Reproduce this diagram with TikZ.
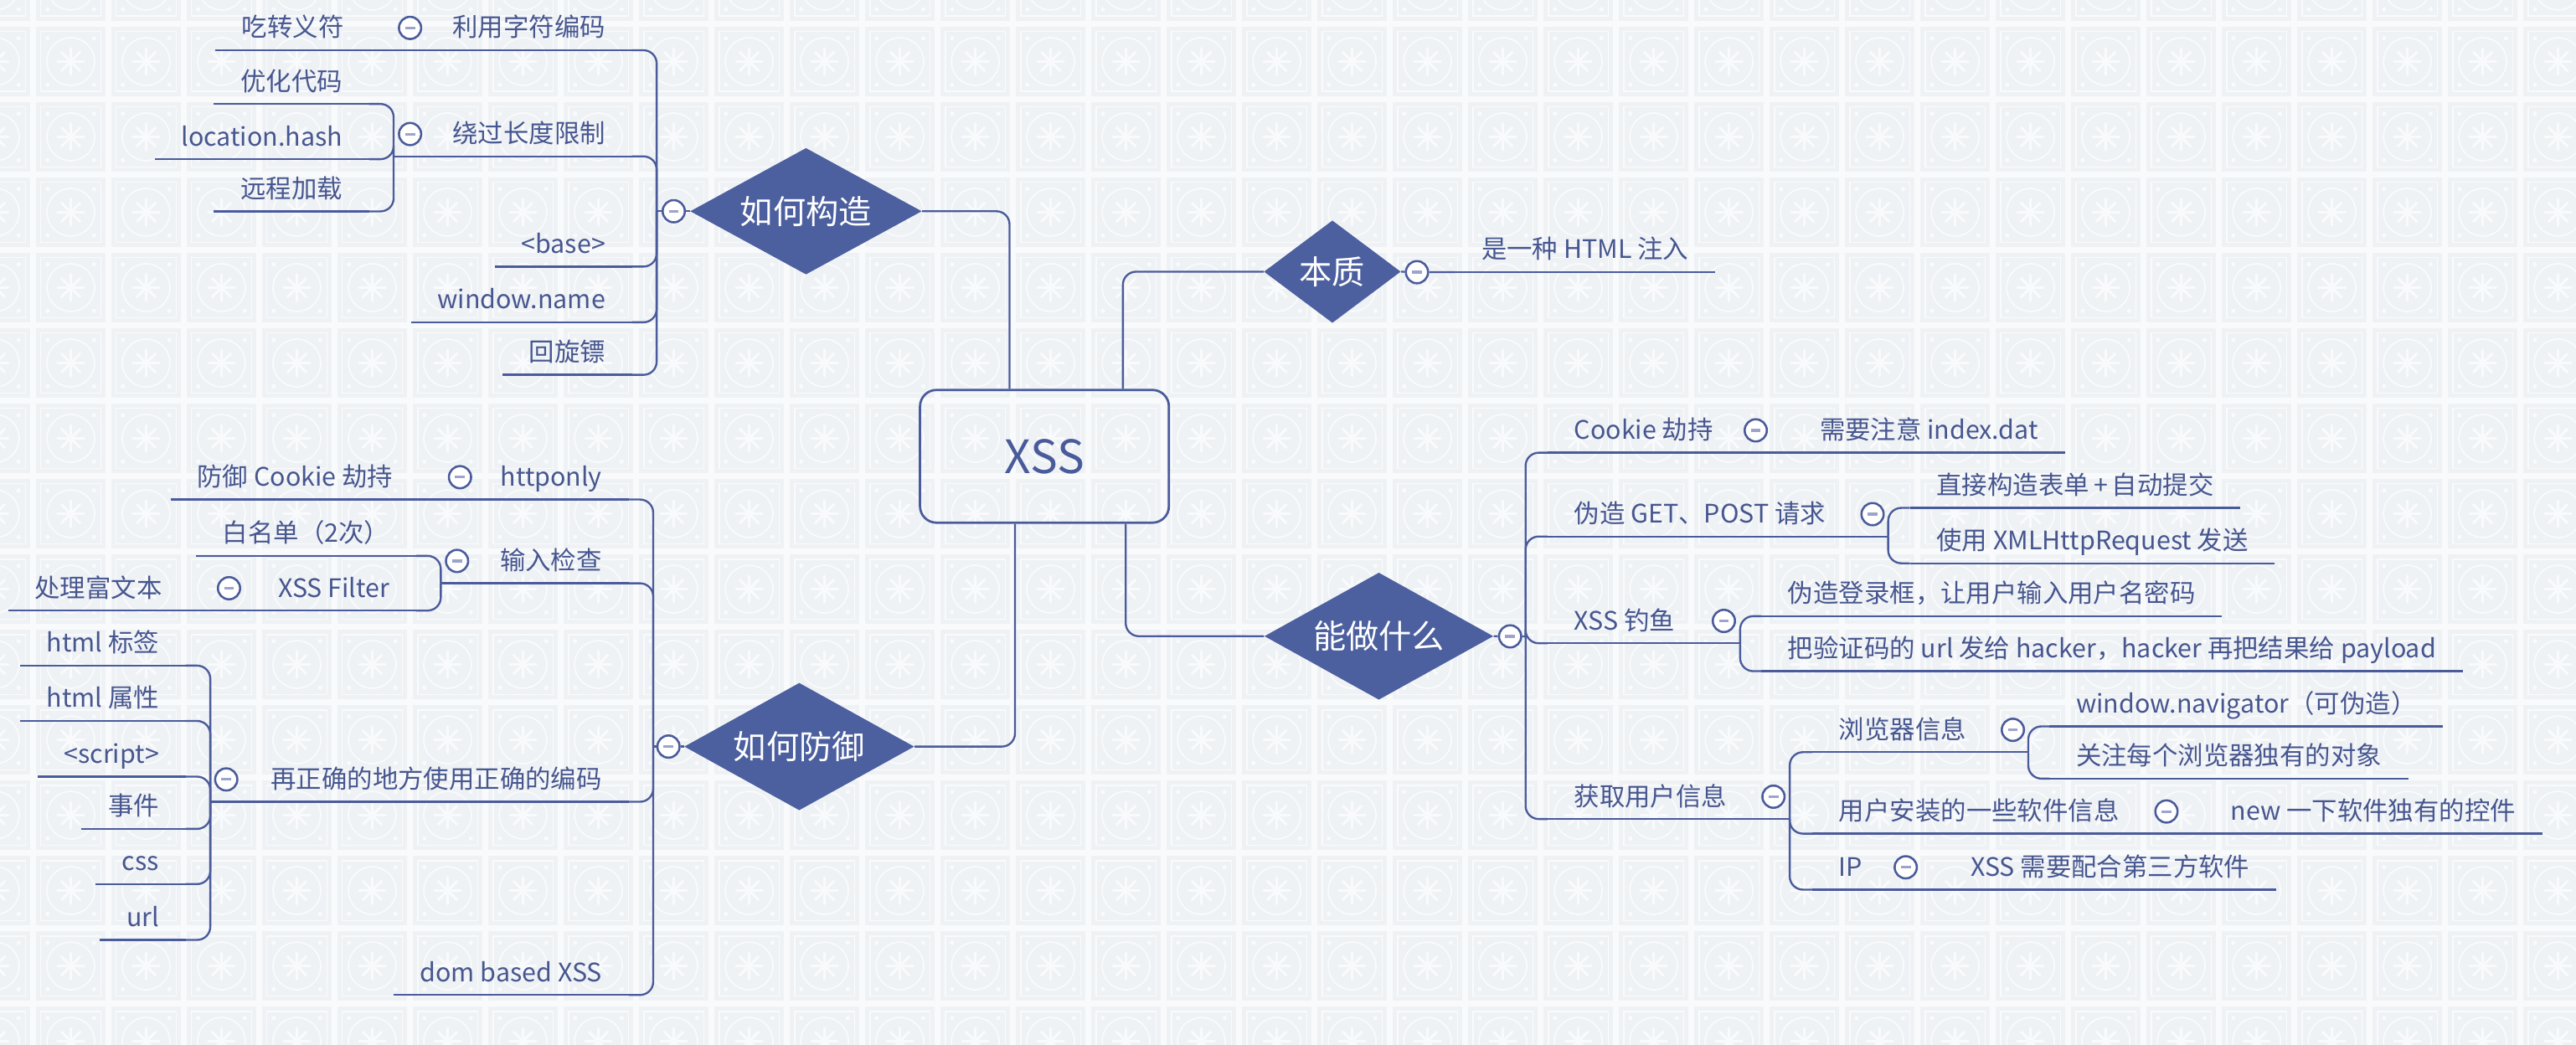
\documentclass[tikz,border=0pt]{standalone}
\usepackage{fontspec}
\newfontfamily\cjk{Noto Sans CJK SC}
\usetikzlibrary{shapes.geometric,calc}
\definecolor{lc}{HTML}{4A5B9B}
\definecolor{tc}{HTML}{46568F}
\definecolor{dfill}{HTML}{4C5F9F}
\definecolor{bgc}{HTML}{F9FAFB}
\definecolor{tilec}{HTML}{EFF2F5}
\definecolor{tdeco}{HTML}{F9FAFC}
\definecolor{dashc}{HTML}{9CA4CC}
\pgfdeclarelayer{tiles}
\pgfdeclarelayer{lines}
\pgfsetlayers{tiles,lines,main}
\tikzset{
  conn/.style={draw=lc, line width=1.2pt, rounded corners=8pt},
  topic/.style={font=\cjk\fontsize{15.5pt}{18pt}\selectfont, text=tc, inner xsep=16pt, inner ysep=0pt, text height=13pt, text depth=8pt},
  lt/.style={topic, anchor=south east},
  rt/.style={topic, anchor=south west},
  mainbranch/.style={diamond, fill=dfill, text=white, font=\cjk\fontsize{20pt}{24pt}\selectfont, inner sep=0pt},
  btn/.style={circle, draw=lc, line width=1.3pt, fill=white, minimum size=13.5pt, inner sep=0pt,
    path picture={\draw[dashc, line width=1.6pt] ([xshift=-3pt]path picture bounding box.center) -- ([xshift=3pt]path picture bounding box.center);}},
}
\begin{document}
\begin{tikzpicture}[x=1pt, y=-1pt]
\useasboundingbox (0,0) rectangle (1568,636);
% background tiles
\begin{pgfonlayer}{tiles}
\fill[bgc] (0,0) rectangle (1568,636);
\begin{scope}
\clip (0,0) rectangle (1568,636);
\foreach \i in {-1,...,33}{
 \foreach \j in {-1,...,13}{
  \pgfmathsetmacro\tx{21.92+45.88*\i}
  \pgfmathsetmacro\ty{16.31+45.88*\j}
  \begin{scope}[shift={(\tx,\ty)}]
   \fill[tilec] (0,0) rectangle (42.3,42.3);
   \draw[tdeco, line width=0.6pt] (3,3) rectangle (39.3,39.3);
   \draw[tdeco, line width=0.9pt] (21.15,21.15) circle[radius=14.5pt];
   \foreach \a in {0,45,...,315} \draw[tdeco, line width=1.6pt, line cap=round] (21.15,21.15) -- ++(\a:8);
   \fill[tdeco] (21.15,21.15) circle[radius=2.5pt];
   \fill[tdeco] (7,7) circle[radius=1.3pt];
   \fill[tdeco] (35.3,7) circle[radius=1.3pt];
   \fill[tdeco] (7,35.3) circle[radius=1.3pt];
   \fill[tdeco] (35.3,35.3) circle[radius=1.3pt];
  \end{scope}
 }}
\end{scope}
\end{pgfonlayer}

% central topic
\node[draw=lc, line width=1.4pt, rounded corners=10pt, minimum width=151.5pt, minimum height=80.8pt,
      font=\cjk\fontsize{28pt}{32pt}\selectfont, text=lc] (xss) at (635.75,277.8) {XSS};

% main branches
\node[mainbranch, shape aspect=1.83, minimum width=141pt, minimum height=77pt] (d1) at (490.6,128.6) {如何构造};
\node[mainbranch, shape aspect=1.33, minimum width=83.3pt, minimum height=62.4pt] (d0) at (811,165.4) {本质};
\node[mainbranch, shape aspect=1.8, minimum width=140pt, minimum height=77.6pt] (d2) at (486.5,454.5) {如何防御};
\node[mainbranch, shape aspect=1.8, minimum width=139.4pt, minimum height=77.4pt] (d3) at (839.3,387.3) {能做什么};

% collapse buttons
\node[btn] (c1) at (410.1,128.6) {};
\node[btn] (c0) at (862.5,165.7) {};
\node[btn] (c2) at (406.9,454.5) {};
\node[btn] (c3) at (919.2,387.4) {};

\coordinate (v1) at (399.7,128.6);
\coordinate (v2) at (397.6,454.5);
\coordinate (v3) at (928.6,387.4);

% ---- 如何构造
\node[lt] (a1) at (384.7,30.6) {利用字符编码};
\node[btn] (ca1) at (249.6,17) {};
\node[lt] (a11) at (225.5,30.6) {吃转义符};
\node[lt] (a2) at (384.7,95.2) {绕过长度限制};
\node[btn] (ca2) at (249.6,81.6) {};
\coordinate (v12) at (239.6,95.2);
\node[lt] (a21) at (224.6,63.3) {优化代码};
\node[lt] (a22) at (224.6,96.9) {location.hash};
\node[lt] (a23) at (224.6,128.7) {远程加载};
\node[lt] (a3) at (384.7,162.3) {<base>};
\node[lt] (a4) at (384.7,196.2) {window.name};
\node[lt] (a5) at (384.7,228.2) {回旋镖};

% ---- 如何防御
\node[lt] (b1) at (382.6,304.1) {httponly};
\node[btn] (cb1) at (280,290.5) {};
\node[lt] (b11) at (255.3,304.1) {防御 Cookie 劫持};
\node[lt] (b2) at (382.6,355.1) {输入检查};
\node[btn] (cb2) at (278.2,341.5) {};
\coordinate (v22) at (268.3,355.1);
\node[lt] (b21) at (253.3,338.4) {白名单（2次）};
\node[lt] (b22) at (253.3,371.7) {XSS Filter};
\node[btn] (cb22) at (139.4,358.1) {};
\node[lt] (b221) at (114.9,371.7) {处理富文本};
\node[lt] (b3) at (382.6,488.1) {再正确的地方使用正确的编码};
\node[btn] (cb3) at (137.7,474.5) {};
\coordinate (v23) at (128,488.1);
\node[lt] (b31) at (113,405.2) {html 标签};
\node[lt] (b32) at (113,438.9) {html 属性};
\node[lt] (b33) at (113,472.8) {<script>};
\node[lt] (b34) at (113,504.6) {事件};
\node[lt] (b35) at (113,538.2) {css};
\node[lt] (b36) at (113,572.2) {url};
\node[lt] (b4) at (382.6,605.7) {dom based XSS};

% ---- 本质
\node[rt] (e1) at (885.6,165.7) {是一种 HTML 注入};

% ---- 能做什么
\node[rt] (r1) at (942,275.6) {Cookie 劫持};
\node[btn] (cr1) at (1068.7,262) {};
\node[rt] (r11) at (1091.5,275.6) {需要注意 index.dat};
\node[rt] (r2) at (942,326.6) {伪造 GET、POST 请求};
\node[btn] (cr2) at (1139.8,313) {};
\coordinate (v32) at (1149.3,326.6);
\node[rt] (r21) at (1162.6,309.2) {直接构造表单\,+\,自动提交};
\node[rt] (r22) at (1162.6,342.9) {使用 XMLHttpRequest 发送};
\node[rt] (r3) at (942,391.6) {XSS 钓鱼};
\node[btn] (cr3) at (1049.3,378) {};
\coordinate (v33) at (1059.2,391.6);
\node[rt] (r31) at (1072.1,375.1) {伪造登录框，让用户输入用户名密码};
\node[rt] (r32) at (1072.1,408.6) {把验证码的 url 发给 hacker，hacker 再把结果给 payload};
\node[rt] (r4) at (942,498.6) {获取用户信息};
\node[btn] (cr4) at (1079.5,485) {};
\coordinate (v34) at (1089.4,498.6);
\node[rt] (r41) at (1103.2,457.9) {浏览器信息};
\node[btn] (cr41) at (1225.2,444.3) {};
\coordinate (v35) at (1234.6,457.9);
\node[rt] (r411) at (1247.5,442.2) {window.navigator（可伪造）};
\node[rt] (r412) at (1247.5,474) {关注每个浏览器独有的对象};
\node[rt] (r42) at (1103.2,507.5) {用户安装的一些软件信息};
\node[btn] (cr42) at (1318.7,494) {};
\node[rt] (r421) at (1341.5,507.5) {new 一下软件独有的控件};
\node[rt] (r43) at (1103.2,541.6) {IP};
\node[btn] (cr43) at (1160,528) {};
\node[rt] (r431) at (1183.3,541.6) {XSS 需要配合第三方软件};

% ---- connectors
\begin{pgfonlayer}{lines}
\draw[conn] ([xshift=-21.25pt]xss.north) |- (d1.east);
\draw[conn] ([xshift=47.75pt]xss.north) |- (d0.west);
\draw[conn] ([xshift=-17.95pt]xss.south) |- (d2.east);
\draw[conn] ([xshift=49.45pt]xss.south) |- (d3.west);

\draw[conn] (d1.west) -- (c1) -- (v1);
\draw[conn] (d2.west) -- (c2) -- (v2);
\draw[conn] (d3.east) -- (c3) -- (v3);
\draw[conn] (d0.east) -- (c0) -- (e1.south west);

\foreach \n in {a1,a2,a3,a4,a5} \draw[conn] (v1) |- (\n.south east);
\foreach \n in {b1,b2,b3,b4} \draw[conn] (v2) |- (\n.south east);
\foreach \n in {r1,r2,r3,r4} \draw[conn] (v3) |- (\n.south west);

\draw[conn] (a1.south west) -- (a11.south east);
\draw[conn] (a2.south west) -- (v12);
\foreach \n in {a21,a22,a23} \draw[conn] (v12) |- (\n.south east);
\draw[conn] (b1.south west) -- (b11.south east);
\draw[conn] (b2.south west) -- (v22);
\foreach \n in {b21,b22} \draw[conn] (v22) |- (\n.south east);
\draw[conn] (b22.south west) -- (b221.south east);
\draw[conn] (b3.south west) -- (v23);
\foreach \n in {b31,b32,b33,b34,b35,b36} \draw[conn] (v23) |- (\n.south east);

\draw[conn] (r1.south east) -- (r11.south west);
\draw[conn] (r2.south east) -- (v32);
\foreach \n in {r21,r22} \draw[conn] (v32) |- (\n.south west);
\draw[conn] (r3.south east) -- (v33);
\foreach \n in {r31,r32} \draw[conn] (v33) |- (\n.south west);
\draw[conn] (r4.south east) -- (v34);
\foreach \n in {r41,r42,r43} \draw[conn] (v34) |- (\n.south west);
\draw[conn] (r41.south east) -- (v35);
\foreach \n in {r411,r412} \draw[conn] (v35) |- (\n.south west);
\draw[conn] (r42.south east) -- (r421.south west);
\draw[conn] (r43.south east) -- (r431.south west);

% underlines
\foreach \n in {a1,a11,a2,a21,a22,a23,a3,a4,a5,b1,b11,b2,b21,b22,b221,b3,b31,b32,b33,b34,b35,b36,b4,
                e1,r1,r11,r2,r21,r22,r3,r31,r32,r4,r41,r411,r412,r42,r421,r43,r431}
  \draw[conn] (\n.south west) -- (\n.south east);
\end{pgfonlayer}
\end{tikzpicture}
\end{document}
